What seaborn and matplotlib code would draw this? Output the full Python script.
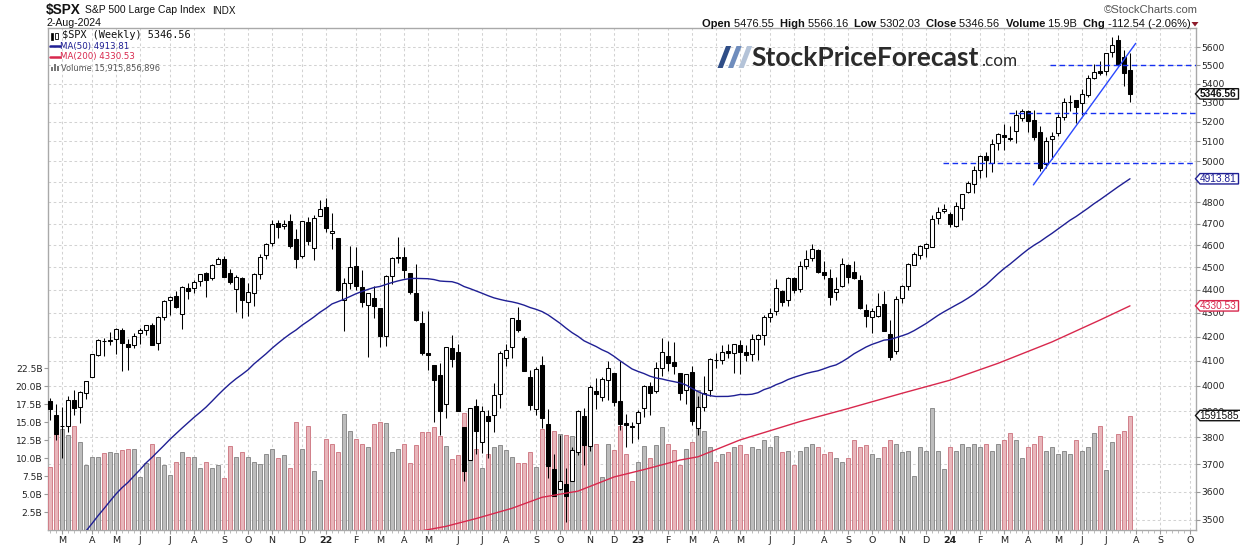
import numpy as np
import pandas as pd
import matplotlib
matplotlib.use("Agg")
import matplotlib.pyplot as plt
import seaborn as sns
from matplotlib.patches import Polygon, Rectangle
from matplotlib.ticker import NullLocator, NullFormatter

# ---------------- data (weekly $SPX, week ending 19-Feb-2021 ... 2-Aug-2024) ----------------
opens = [
    3939.6, 3885.6, 3842.5, 3844.6, 3943.3, 3916.5, 3971.1, 4034.4, 4124.7, 4179.8, 4185.1, 4192.0, 4228.3, 4169.9, 4165.9, 4216.5, 4229.3, 4248.3, 4173.4, 4284.9, 4356.5, 4372.4, 4296.4, 4409.6, 4406.9, 4437.8, 4472.9, 4450.3, 4513.8, 4535.4, 4474.8, 4402.9, 4450.0, 4348.8, 4385.4, 4471.5, 4553.7, 4610.6, 4701.5, 4689.3, 4712.0, 4628.8, 4548.4, 4707.3, 4587.9, 4734.0,
    4778.1, 4655.3, 4632.2, 4356.3, 4431.8, 4505.8, 4412.6, 4332.7, 4363.1, 4322.6, 4202.8, 4462.4, 4541.1, 4548.0, 4474.7, 4385.6, 4255.3, 4130.6, 4081.3, 4041.6, 3927.8, 4151.1, 4134.7, 3838.2, 3715.3, 3920.8, 3781.0, 3880.9, 3883.8, 3965.7, 4112.4, 4155.9, 4269.4, 4195.1, 4034.6, 3909.4, 4083.7, 3849.9, 3682.7, 3609.8, 3626.0, 3638.7, 3743.8, 3881.9, 3767.0, 3978.0, 3956.2, 4023.6, 4052.0, 3939.3, 3853.8, 3843.3,
    3853.3, 3910.8, 3999.3, 3978.1, 4070.1, 4119.6, 4096.6, 4052.4, 3982.9, 4055.2, 3835.0, 3917.5, 3982.9, 4102.2, 4104.6, 4140.8, 4132.1, 4166.8, 4137.0, 4126.7, 4190.8, 4205.5, 4281.2, 4310.2, 4396.4, 4354.2, 4450.5, 4404.5, 4507.7, 4543.4, 4580.0, 4479.0, 4453.0, 4389.4, 4415.3, 4510.0, 4478.0, 4445.0, 4310.6, 4284.5, 4289.0, 4340.0, 4210.0, 4139.4, 4364.3, 4416.0, 4511.7, 4554.9, 4586.0, 4593.4, 4725.6, 4758.9,
    4745.2, 4690.6, 4772.4, 4848.0, 4888.9, 4957.2, 5026.8, 4989.3, 5093.0, 5132.0, 5111.0, 5154.8, 5219.5, 5257.2, 5211.4, 5149.7, 4987.3, 5114.1, 5142.4, 5225.5, 5305.4, 5315.9, 5297.2, 5341.2, 5432.6, 5471.1, 5471.1, 5572.9, 5638.2, 5544.0, 5476.55,
]
highs = [
    3950.4, 3928.7, 3914.5, 3960.3, 3983.9, 3978.2, 4020.6, 4129.5, 4191.3, 4194.2, 4218.8, 4238.0, 4236.4, 4188.7, 4213.4, 4234.1, 4249.7, 4257.2, 4286.1, 4355.4, 4372.9, 4393.7, 4415.2, 4430.0, 4442.2, 4468.0, 4480.3, 4513.3, 4545.9, 4549.8, 4493.0, 4465.4, 4457.3, 4429.9, 4475.8, 4559.7, 4608.1, 4718.5, 4714.9, 4717.8, 4743.8, 4672.9, 4713.6, 4732.0, 4740.7, 4808.9,
    4818.6, 4748.8, 4632.2, 4453.2, 4595.3, 4590.0, 4489.6, 4385.3, 4416.8, 4302.0, 4465.4, 4546.0, 4637.3, 4593.5, 4471.0, 4512.9, 4308.5, 4307.7, 4081.3, 4090.7, 4158.5, 4204.8, 4168.8, 3838.2, 3913.7, 3945.9, 3918.5, 3903.6, 4012.4, 4140.2, 4167.7, 4280.5, 4325.3, 4203.0, 4063.0, 4076.8, 4119.3, 3907.1, 3739.0, 3806.9, 3685.4, 3762.8, 3905.4, 3911.8, 4001.5, 4028.8, 4034.0, 4101.0, 4052.5, 4100.5, 3889.0, 3858.0,
    3906.0, 4004.0, 4015.4, 4094.2, 4195.4, 4182.4, 4176.5, 4052.0, 4048.3, 4078.5, 3958.0, 4039.5, 4110.8, 4133.1, 4163.2, 4169.5, 4170.1, 4186.9, 4166.4, 4212.9, 4212.9, 4290.7, 4322.6, 4448.5, 4400.2, 4458.5, 4456.5, 4527.8, 4578.4, 4607.1, 4584.6, 4527.4, 4490.3, 4458.3, 4541.3, 4515.0, 4527.4, 4466.0, 4338.5, 4320.0, 4385.5, 4393.6, 4268.4, 4374.0, 4421.2, 4520.1, 4568.6, 4599.4, 4609.2, 4738.6, 4778.0, 4793.3,
    4754.3, 4802.4, 4842.1, 4903.7, 4975.3, 5030.1, 5048.4, 5111.1, 5140.3, 5189.3, 5179.1, 5261.1, 5264.9, 5264.0, 5263.0, 5176.0, 5123.5, 5146.0, 5239.7, 5325.5, 5341.9, 5315.9, 5375.1, 5447.3, 5505.5, 5523.6, 5570.3, 5655.6, 5669.7, 5585.0, 5566.16,
]
lows = [
    3865.7, 3789.5, 3723.3, 3819.3, 3884.0, 3853.5, 3949.1, 4034.0, 4118.0, 4118.4, 4164.9, 4126.8, 4056.9, 4061.4, 4152.0, 4167.6, 4206.0, 4164.4, 4144.6, 4271.0, 4289.5, 4321.1, 4233.1, 4360.0, 4385.0, 4416.8, 4367.7, 4442.2, 4513.0, 4456.5, 4427.8, 4305.9, 4278.9, 4288.5, 4329.9, 4447.5, 4537.4, 4595.1, 4630.9, 4672.8, 4585.4, 4495.1, 4540.5, 4600.2, 4531.1, 4734.0,
    4662.7, 4582.2, 4395.3, 4222.6, 4405.0, 4401.4, 4327.2, 4114.7, 4279.5, 4157.9, 4161.7, 4424.3, 4517.7, 4450.0, 4381.3, 4267.6, 4124.3, 4062.5, 3858.9, 3810.3, 3875.1, 4074.0, 3900.2, 3636.9, 3715.3, 3738.7, 3742.1, 3721.6, 3818.6, 3910.7, 4079.8, 4112.1, 4218.7, 4057.7, 3906.2, 3886.0, 3837.1, 3647.5, 3584.1, 3604.2, 3491.6, 3640.0, 3735.0, 3698.2, 3750.0, 3906.5, 3940.0, 3944.0, 3918.4, 3827.3, 3764.5, 3780.0,
    3794.3, 3877.0, 3885.5, 3973.0, 4037.2, 4060.0, 4047.5, 3943.1, 3928.2, 3846.3, 3808.9, 3901.3, 3960.0, 4069.8, 4086.9, 4113.2, 4049.4, 4048.3, 4098.9, 4098.0, 4104.0, 4166.2, 4261.1, 4290.0, 4328.1, 4330.0, 4385.1, 4389.9, 4493.9, 4528.6, 4474.6, 4448.5, 4335.3, 4356.3, 4411.0, 4430.5, 4446.0, 4316.5, 4238.6, 4216.5, 4283.8, 4223.0, 4103.8, 4128.0, 4342.0, 4401.0, 4510.0, 4537.0, 4546.5, 4593.0, 4697.0, 4751.0,
    4682.1, 4682.0, 4714.8, 4845.0, 4845.2, 4918.1, 4920.3, 4946.0, 5056.0, 5057.0, 5104.0, 5094.0, 5203.4, 5146.0, 5107.0, 4953.6, 4969.0, 5011.0, 5127.0, 5211.0, 5256.9, 5191.7, 5234.0, 5331.0, 5428.0, 5447.0, 5448.0, 5546.0, 5497.0, 5390.9, 5302.03,
]
closes = [
    3906.71, 3811.15, 3841.94, 3943.34, 3913.10, 3974.54, 4019.87, 4128.80, 4185.47, 4180.17, 4181.17, 4232.60, 4173.85, 4155.86, 4204.11, 4229.89, 4247.44, 4166.45, 4280.70, 4352.34, 4369.55, 4327.16, 4411.79, 4395.26, 4436.52, 4468.00, 4441.67, 4509.37, 4535.43, 4458.58, 4432.99, 4455.48, 4357.04, 4391.34, 4471.37, 4544.90, 4605.38, 4697.53, 4682.85, 4697.96, 4594.62, 4538.43, 4712.02, 4620.64, 4725.79, 4766.18,
    4677.03, 4662.85, 4397.94, 4431.85, 4500.53, 4418.64, 4348.87, 4384.65, 4328.87, 4204.31, 4463.12, 4543.06, 4545.86, 4488.28, 4392.59, 4271.78, 4131.93, 4123.34, 4023.89, 3901.36, 4158.24, 4108.54, 3900.86, 3674.84, 3911.74, 3825.33, 3899.38, 3863.16, 3961.63, 4130.29, 4145.19, 4280.15, 4228.48, 4057.66, 3924.26, 4067.36, 3873.33, 3693.23, 3585.62, 3639.66, 3583.07, 3752.75, 3901.06, 3770.55, 3992.93, 3965.34, 4026.12, 4071.70, 3934.38, 3852.36, 3844.82, 3839.50,
    3895.08, 3999.09, 3972.61, 4070.56, 4136.48, 4090.46, 4079.09, 3970.04, 4045.64, 3861.59, 3916.64, 3970.99, 4109.31, 4105.02, 4137.64, 4133.52, 4169.48, 4136.25, 4124.08, 4191.98, 4205.45, 4282.37, 4298.86, 4409.59, 4348.33, 4450.38, 4398.95, 4505.42, 4536.34, 4582.23, 4478.03, 4464.05, 4369.71, 4405.71, 4515.77, 4457.49, 4450.32, 4320.06, 4288.05, 4308.50, 4327.78, 4224.16, 4117.37, 4358.34, 4415.24, 4514.02, 4559.34, 4594.63, 4604.37, 4719.19, 4754.63, 4769.83,
    4697.24, 4783.83, 4839.81, 4890.97, 4958.61, 5026.61, 5005.57, 5088.80, 5137.08, 5123.69, 5117.09, 5234.18, 5254.35, 5204.34, 5123.41, 4967.23, 5099.96, 5127.79, 5222.68, 5303.27, 5304.72, 5277.51, 5346.99, 5431.60, 5464.62, 5460.48, 5567.19, 5615.35, 5505.00, 5459.10, 5346.56,
]
# weekly volume, billions
volumes_b = [
    8.7, 13.5, 14.0, 13.2, 14.4, 12.2, 9.0, 10.1, 10.2, 10.7,
    10.9, 10.7, 11.1, 11.25, 11.3, 7.4, 9.3, 12.0, 10.1, 9.0,
    7.7, 9.4, 10.9, 10.2, 10.2, 8.6, 9.5, 8.6, 9.0, 7.2,
    11.6, 10.1, 10.8, 10.1, 9.5, 9.1, 10.5, 11.3, 10.0, 10.4,
    8.6, 15.0, 11.3, 14.4, 8.2, 6.9, 12.6, 11.9, 10.9, 16.1,
    13.7, 12.7, 12.0, 11.5, 14.7, 15.0, 14.8, 10.9, 11.3, 12.0,
    9.3, 11.8, 13.6, 13.6, 14.3, 13.0, 11.6, 9.8, 10.4, 16.2,
    11.1, 11.3, 8.6, 10.5, 11.5, 11.8, 11.1, 10.2, 9.3, 9.3,
    10.8, 8.7, 14.0, 13.7, 13.7, 13.3, 13.2, 13.0, 14.0, 13.0,
    13.7, 12.0, 7.3, 11.9, 11.1, 14.4, 10.5, 6.8, 9.4, 11.6,
    10.0, 11.8, 14.3, 12.0, 11.1, 9.0, 11.3, 12.2, 19.5, 13.75,
    11.5, 9.5, 10.5, 10.8, 11.5, 11.8, 10.5, 11.5, 11.2, 12.5,
    11.5, 13.0, 10.8, 11.0, 9.0, 11.0, 11.5, 12.0, 11.5, 10.5,
    10.8, 10.0, 9.5, 10.0, 12.5, 11.5, 11.8, 10.5, 10.0, 11.5,
    12.5, 12.0, 10.8, 11.0, 7.5, 11.5, 11.0, 17.0, 11.0, 8.5,
    11.5, 11.0, 12.0, 11.5, 12.0, 11.5, 12.0, 11.0, 12.0, 12.5,
    13.5, 12.5, 10.0, 11.5, 12.0, 13.0, 11.0, 11.5, 10.5, 11.0,
    10.5, 12.5, 11.0, 11.5, 13.5, 14.4, 8.4, 12.2, 13.3, 13.7, 15.9,
]
# weekly closes before the window (13-Mar-2020 ... 12-Feb-2021), feed the 50-week average
prior_closes = [
    2711.02, 2304.92, 2541.47, 2488.65, 2789.82, 2874.56, 2836.74, 2830.71, 2929.80, 2863.70,
    2955.45, 3044.31, 3193.93, 3041.31, 3097.74, 3009.05, 3130.01, 3185.04, 3224.73, 3215.63,
    3271.12, 3351.28, 3372.85, 3397.16, 3508.01, 3426.96, 3340.97, 3319.47, 3298.46, 3348.42,
    3477.13, 3483.81, 3465.39, 3269.96, 3509.44, 3585.15, 3557.54, 3638.35, 3699.12, 3663.46,
    3709.41, 3703.06, 3756.07, 3824.68, 3768.25, 3841.47, 3714.24, 3886.83, 3934.83,
]
# 200-week average (week index, value)
ma200_week = [60, 66, 71, 77, 82, 88, 94, 99, 105, 108, 115, 125, 133, 142, 150, 158, 167, 175, 180]
ma200_val = [3455, 3478, 3505, 3541, 3580, 3602, 3653, 3680, 3715, 3727, 3790, 3860, 3910, 3970, 4022, 4090, 4178, 4270, 4330.53]

month_tick_week = [2, 7, 11, 15, 20, 24, 29, 33, 37, 42, 46, 51, 55, 59, 63, 68, 72, 76, 81, 85, 90, 94, 98,
                   103, 107, 111, 115, 120, 124, 129, 133, 137, 142, 146, 150, 155, 159, 163, 168, 172, 176,
                   181, 185, 190]
month_tick_labels = ["M", "A", "M", "J", "J", "A", "S", "O", "N", "D", "22", "F", "M", "A", "M", "J", "J", "A",
                     "S", "O", "N", "D", "23", "F", "M", "A", "M", "J", "J", "A", "S", "O", "N", "D", "24", "F",
                     "M", "A", "M", "J", "J", "A", "S", "O"]
price_ticks = [3500, 3600, 3700, 3800, 3900, 4000, 4100, 4200, 4300, 4400, 4500,
               4600, 4700, 4800, 4900, 5000, 5100, 5200, 5300, 5400, 5500, 5600]
hidden_price_labels = [4900]   # covered by the MA(50) value tag on the reference
volume_ticks = [2.5, 5.0, 7.5, 10.0, 12.5, 15.0, 17.5, 20.0, 22.5]

# drawn annotations (support levels, trend line)
level_prices = [5500, 5245, 4990]
level_start_week = [166.7, 159.8, 148.8]
trend_week = [163.9, 180.95]
trend_price = [4884, 5622]

last_volume_full = "15,915,856,896"

assert len(opens) == len(highs) == len(lows) == len(closes) == len(volumes_b) == 181

# ---------------- figure ----------------
sns.set_theme(style="white")
plt.rcParams['font.family'] = ['DejaVu Sans']

W, H = 1240, 546
fig = plt.figure(figsize=(W / 100, H / 100), dpi=100)
fig.patch.set_facecolor("white")

PL, PR, PT, PB = 48, 1196, 28.3, 530
rect = [PL / W, 1 - PB / H, (PR - PL) / W, (PB - PT) / H]


def fx(x):
    return x / W


def fy(y):
    return 1 - y / H


n = len(closes)
weeks = np.arange(n)
XMIN, XMAX = -1 / 3, 191.0
kpx = np.log(5600 / 3500) / (520 - 47.3)
PMIN = 3500 * np.exp(-kpx * (PB - 520))
PMAX = 5600 * np.exp(kpx * (47.3 - PT))
VMAX = (PB - PT) / 7.2

axg = fig.add_axes(rect)
axv = fig.add_axes(rect)
ax = fig.add_axes(rect)
axv.patch.set_alpha(0)
ax.patch.set_alpha(0)

# ---- grid / frame axes
axg.set_yscale("log")
axg.set_xlim(XMIN, XMAX)
axg.set_ylim(PMIN, PMAX)
axg.set_yticks(price_ticks)
axg.yaxis.set_minor_locator(NullLocator())
axg.set_xticks(month_tick_week)
axg.tick_params(length=0, labelleft=False, labelbottom=False)
axg.grid(True, which="major", color="#d2d2d2", linestyle=(0, (2.5, 2.5)), linewidth=0.75)
for s in axg.spines.values():
    s.set_color("#a9a9a9")
    s.set_linewidth(1.0)

# ---- volume bars
prev = [prior_closes[-1]] + closes[:-1]
vdf = pd.DataFrame({
    "week": weeks,
    "volume": volumes_b,
    "direction": ["down" if c < p else "up" for c, p in zip(closes, prev)],
})
sns.barplot(data=vdf, x="week", y="volume", hue="direction",
            palette={"up": "#bdbdbd", "down": "#e8b6bb"}, native_scale=True,
            width=0.68, dodge=False, errorbar=None, legend=False, ax=axv,
            linewidth=0.7, saturation=1)
for p in axv.patches:
    fc = p.get_facecolor()
    p.set_edgecolor("#8d8d8d" if abs(fc[0] - fc[2]) < 0.05 else "#d07f89")
axv.set_xlim(XMIN, XMAX)
axv.set_ylim(0, VMAX)
axv.set_xlabel("")
axv.set_ylabel("")
axv.set_yticks(volume_ticks)
axv.set_yticklabels([f"{v:.1f}B" for v in volume_ticks])
axv.tick_params(axis="y", left=True, labelleft=True, right=False, labelright=False,
                length=3, width=0.8, color="#999999", labelsize=6.6, labelcolor="#222222", pad=1)
axv.tick_params(axis="x", bottom=False, labelbottom=False)
for s in axv.spines.values():
    s.set_visible(False)

# ---- price axes: candles + moving averages
ax.set_yscale("log")
o = np.array(opens)
c = np.array(closes)
hi = np.array(highs)
lo = np.array(lows)
ax.vlines(weeks, lo, hi, color="black", linewidth=0.75, zorder=3)
up = c >= o
body_bottom = np.minimum(o, c)
body_h = np.maximum(np.abs(c - o), 0.8)
ax.bar(weeks, body_h, bottom=body_bottom, width=0.68,
       color=["white" if u else "black" for u in up], edgecolor="black", linewidth=0.75, zorder=4)

ma50 = pd.Series(prior_closes + closes).rolling(50).mean().to_numpy()[len(prior_closes):]
sns.lineplot(x=weeks, y=ma50, ax=ax, color="#1f1f94", linewidth=1.0, zorder=5)
sns.lineplot(x=ma200_week, y=ma200_val, ax=ax, color="#d8284d", linewidth=1.0, zorder=5)

for lvl, x0 in zip(level_prices, level_start_week):
    ax.hlines(lvl, x0, XMAX, colors="#1530f0", linestyles=(0, (4, 2.5)), linewidth=1.0, zorder=6)
ax.plot(trend_week, trend_price, color="#2a48ff", linewidth=1.0, zorder=6)

ax.set_xlim(XMIN, XMAX)
ax.set_ylim(PMIN, PMAX)
ax.set_xlabel("")
ax.set_ylabel("")
ax.yaxis.tick_right()
ax.set_yticks(price_ticks)
ax.set_yticklabels(["" if p in hidden_price_labels else str(p) for p in price_ticks])
ax.yaxis.set_minor_locator(NullLocator())
ax.yaxis.set_minor_formatter(NullFormatter())
ax.tick_params(axis="y", which="major", right=True, left=False, labelright=True, labelleft=False,
               direction="out", length=3, width=0.8, color="#999999", labelsize=6.6,
               labelcolor="#222222", pad=1)
ax.set_xticks(month_tick_week)
ax.set_xticklabels(month_tick_labels)
ax.set_xticks(np.arange(0, 191), minor=True)
ax.tick_params(axis="x", which="major", bottom=True, length=3, width=0.8, color="#999999",
               labelsize=6.8, labelcolor="#222222", pad=1.5)
ax.tick_params(axis="x", which="minor", bottom=True, length=2, width=0.6, color="#b0b0b0")
for lab in ax.get_xticklabels():
    if lab.get_text() in ("22", "23", "24"):
        lab.set_fontweight("bold")
for s in ax.spines.values():
    s.set_visible(False)

renderer = fig.canvas.get_renderer()


def fit_text(x, y, s, width, **kw):
    t = fig.text(fx(x), fy(y), s, **kw)
    w = t.get_window_extent(renderer).width
    t.set_fontsize(t.get_fontsize() * width / w)
    return t


# ---- header
fig.text(fx(46), fy(10), "$SPX", fontsize=9.8, fontweight="bold", va="center", ha="left",
         family=["Liberation Sans", "DejaVu Sans"], color="#111111")
fit_text(85, 10, "S&P 500 Large Cap Index", 121.5, fontsize=8, va="center", ha="left",
         family=["Liberation Sans", "DejaVu Sans"], color="#111111")
fit_text(212.5, 10.5, "INDX", 23.3, fontsize=7, va="center", ha="left",
         family=["Liberation Sans", "DejaVu Sans"], color="#111111")
fit_text(46.5, 22.8, "2-Aug-2024", 55, fontsize=7.6, va="center", ha="left",
         family=["Liberation Sans", "DejaVu Sans"], color="#111111")
fit_text(1198, 9.7, "\u00a9StockCharts.com", 94, fontsize=7.5, va="center", ha="right",
         family=["Liberation Sans", "DejaVu Sans"], color="#555555")

# OHLC line (bold labels, regular values), right aligned
pieces = [("Open ", True), ("5476.55  ", False), ("High ", True), ("5566.16  ", False),
          ("Low ", True), ("5302.03  ", False), ("Close ", True), ("5346.56  ", False),
          ("Volume ", True), ("15.9B  ", False), ("Chg ", True), ("-112.54 (-2.06%) ", False)]
hdr_fs = 7.6
texts = []
for s, b in pieces:
    t = fig.text(0, fy(24.3), s, fontsize=hdr_fs, fontweight="bold" if b else "normal",
                 va="center", ha="left", family=["Liberation Sans", "DejaVu Sans"], color="#111111")
    texts.append(t)
widths = [t.get_window_extent(renderer).width for t in texts]
target = 1190 - 702
scale = target / sum(widths)
for t in texts:
    t.set_fontsize(hdr_fs * scale)
widths = [t.get_window_extent(renderer).width for t in texts]
xcur = 702
for t, w in zip(texts, widths):
    t.set_x(fx(xcur))
    xcur += w
fig.add_artist(Polygon([(fx(1191.5), fy(22)), (fx(1198.5), fy(22)), (fx(1195), fy(26.5))],
                       closed=True, transform=fig.transFigure, facecolor="#8e1b2b", edgecolor="none"))

# ---- logo
stripe_cols = ["#2f4d86", "#6f8dbd", "#b4c3d8"]
for i, col in enumerate(stripe_cols):
    x0 = 717.5 + 10.5 * i
    pts = [(x0, 68), (x0 + 5.2, 68), (x0 + 5.2 + 8.5, 46), (x0 + 8.5, 46)]
    fig.add_artist(Polygon([(fx(a), fy(b)) for a, b in pts], closed=True, transform=fig.transFigure,
                           facecolor=col, edgecolor="none"))
fit_text(751.5, 57.5, "StockPriceForecast", 228, fontsize=20, fontweight="bold", va="center", ha="left",
         family=["Lato", "Roboto", "DejaVu Sans"], color="#2b2b2b")
fit_text(981.5, 60.5, ".com", 36, fontsize=12, va="center", ha="left",
         family=["Lato", "Roboto", "DejaVu Sans"], color="#2b2b2b")

# ---- legend block inside plot
fig.add_artist(Rectangle((fx(50.5), fy(40)), 2.5 / W, 7 / H, transform=fig.transFigure,
                         facecolor="black", edgecolor="black", lw=0.5))
fig.add_artist(Rectangle((fx(55), fy(39)), 2.5 / W, 6 / H, transform=fig.transFigure,
                         facecolor="white", edgecolor="black", lw=0.6))
fit_text(62.5, 35.5, "$SPX (Weekly) 5346.56", 131.5, fontsize=8, va="center", ha="left",
         family=["DejaVu Sans Mono"], color="#111111")
fig.add_artist(plt.Line2D([fx(50), fx(60)], [fy(45.8), fy(45.8)], transform=fig.transFigure,
                          color="#1f1f94", lw=1.8))
fit_text(60.5, 46, "MA(50) 4913.81", 69, fontsize=7.5, va="center", ha="left",
         family=["DejaVu Sans"], color="#1f1f94")
fig.add_artist(plt.Line2D([fx(50), fx(60)], [fy(56.8), fy(56.8)], transform=fig.transFigure,
                          color="#d8284d", lw=1.8))
fit_text(60.5, 57, "MA(200) 4330.53", 74, fontsize=7.5, va="center", ha="left",
         family=["DejaVu Sans"], color="#d8284d")
for j, hgt in enumerate([4, 7, 5]):
    fig.add_artist(Rectangle((fx(50.5 + 3 * j), fy(71)), 2 / W, hgt / H, transform=fig.transFigure,
                             facecolor="#777777", edgecolor="none"))
fit_text(61, 68, "Volume " + last_volume_full, 99, fontsize=7.5, va="center", ha="left",
         family=["DejaVu Sans"], color="#555555")


# ---- value tags on the right axis
def price_to_py(price):
    return H - ax.transData.transform((0, price))[1]


def tag(ypx, text, edge, tcolor, bold=False, x1=1238.5):
    x0 = 1195.5
    hh = 5.2
    pts = [(x0, ypx), (x0 + 4.5, ypx - hh), (x1, ypx - hh), (x1, ypx + hh), (x0 + 4.5, ypx + hh)]
    fig.add_artist(Polygon([(fx(a), fy(b)) for a, b in pts], closed=True, transform=fig.transFigure,
                           facecolor="white", edgecolor=edge, lw=1.0, zorder=10))
    t = fig.text(fx(1199.5), fy(ypx + 0.3), text, color=tcolor, fontsize=7.3,
                 fontweight="bold" if bold else "normal", va="center", ha="left",
                 family=["Liberation Sans", "DejaVu Sans"], zorder=11)
    return t


tag(price_to_py(closes[-1]), f"{closes[-1]:.2f}", "#111111", "#111111", bold=True)
tag(price_to_py(ma50[-1]), f"{ma50[-1]:.2f}", "#1f1f94", "#1f1f94")
tag(price_to_py(ma200_val[-1]), f"{ma200_val[-1]:.2f}", "#d8284d", "#d8284d")
vy = H - axv.transData.transform((0, volumes_b[-1]))[1]
tag(vy, "1591585", "#111111", "#111111", x1=1242)

fig.savefig("out.png", dpi=100, facecolor="white")
